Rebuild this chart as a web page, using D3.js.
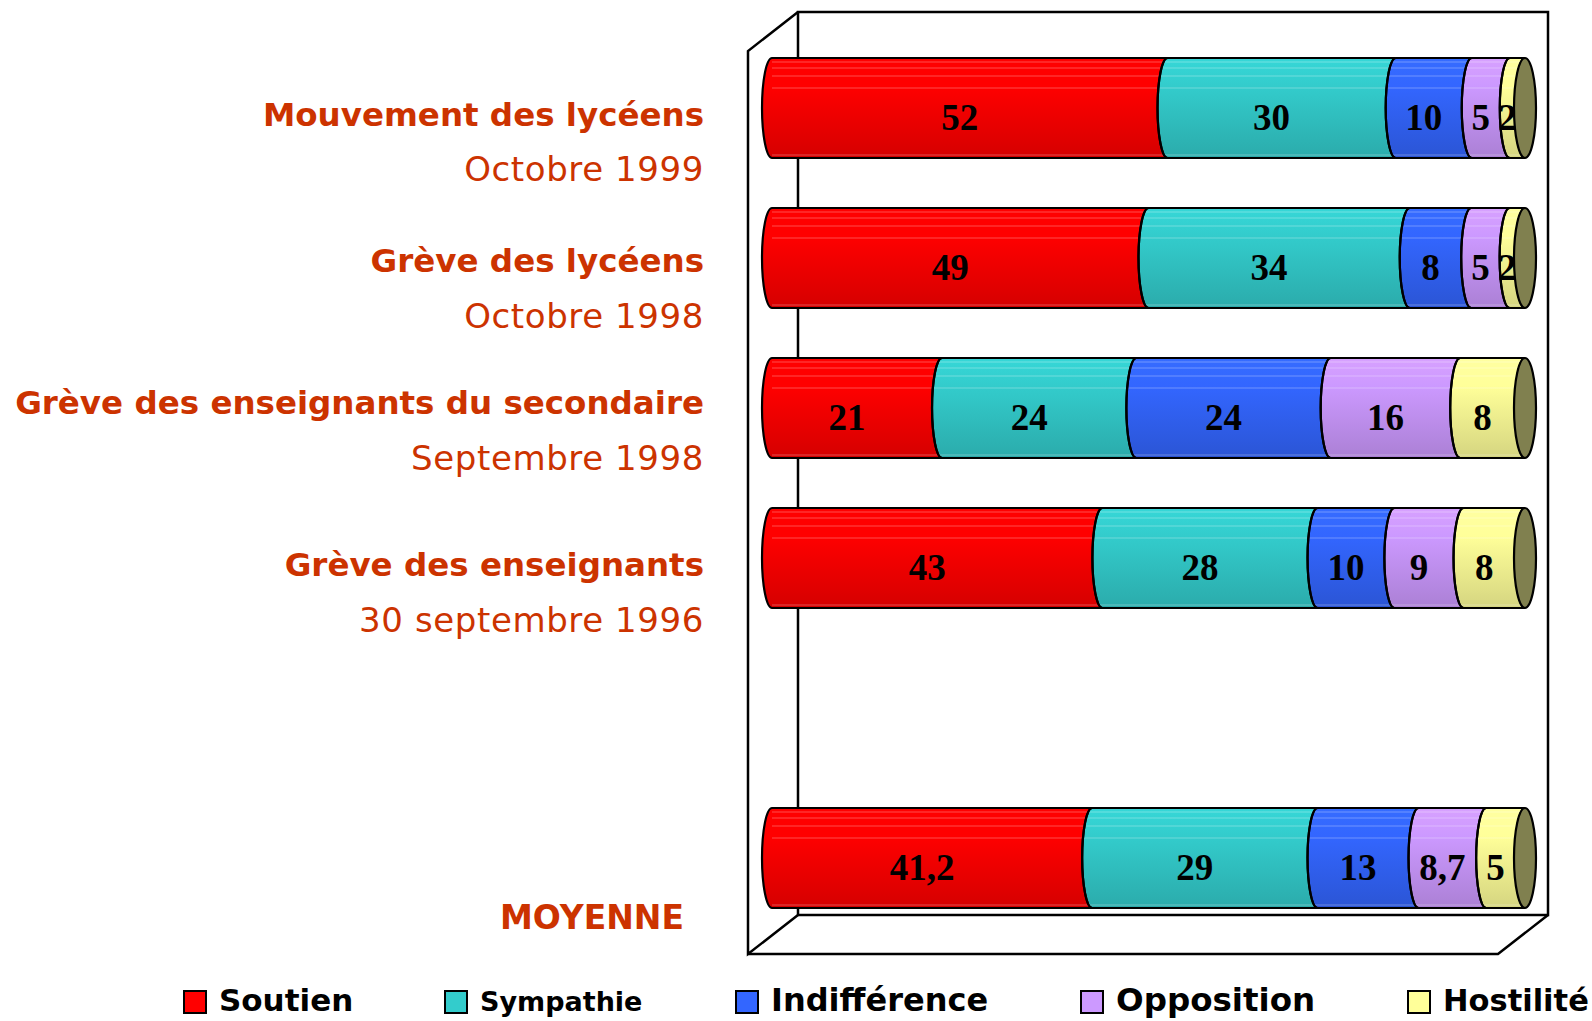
<!DOCTYPE html>
<html><head><meta charset="utf-8">
<script src="https://cdn.jsdelivr.net/npm/d3@7"></script>
<style>body{margin:0;background:#fff}</style>
</head><body><svg id="c" width="1592" height="1021"></svg>
<script>
// ---------- DATA ----------
const categories = ["Mouvement des lycéens", "Grève des lycéens", "Grève des enseignants du secondaire", "Grève des enseignants", "MOYENNE"];
const subtitles  = ["Octobre 1999", "Octobre 1998", "Septembre 1998", "30 septembre 1996", ""];
const seriesNames = ["Soutien", "Sympathie", "Indifférence", "Opposition", "Hostilité"];
const soutien     = [52, 49, 21, 43, 41.2];
const sympathie   = [30, 34, 24, 28, 29];
const indifference= [10, 8, 24, 10, 13];
const opposition  = [5, 5, 16, 9, 8.7];
const hostilite   = [2, 2, 8, 8, 5];
const seriesColors = ["#ff0000", "#33cccc", "#3366ff", "#cc99ff", "#ffff99"];

// ---------- LAYOUT (style constants) ----------
const W = 1592, H = 1021;
const titleColor = "#cc3300";
const titleDy = [18, 14, 6, 18, 71];
const subDy   = [73, 70, 62, 74];
const legendX = [184, 445, 736, 1081, 1408];
const legendFont = [31, 27, 32, 32.5, 30.5];

const svg = d3.select("#c");
svg.append("rect").attr("width", W).attr("height", H).attr("fill", "#fff");
const defs = svg.append("defs");

const rows = categories.map((c, i) => ({
  cat: c, sub: subtitles[i],
  "Soutien": soutien[i], "Sympathie": sympathie[i], "Indifférence": indifference[i],
  "Opposition": opposition[i], "Hostilité": hostilite[i]
}));
const stacked = d3.stack().keys(seriesNames).offset(d3.stackOffsetExpand)(rows);

// y band with an empty slot before MOYENNE
const yKeys = [categories[0], categories[1], categories[2], categories[3], "__gap__", categories[4]];
const y = d3.scaleBand().domain(yKeys).range([33, 933]).paddingInner(1/3).paddingOuter(1/6);
const x = d3.scaleLinear().domain([0, 1]).range([772, 1525]);
const color = d3.scaleOrdinal().domain(seriesNames).range(seriesColors);
const fr = d3.formatLocale({decimal: ",", thousands: " ", grouping: [3], currency: ["", "€"]}).format("~g");

// ---------- 3D frame ----------
const back = {x0: 798, y0: 12, x1: 1548, y1: 915}, dx = -50, dy = 39;
const frame = svg.append("g").attr("fill", "none").attr("stroke", "#000").attr("stroke-width", 2.5).attr("stroke-linejoin", "miter");
frame.append("rect").attr("x", back.x0).attr("y", back.y0).attr("width", back.x1 - back.x0).attr("height", back.y1 - back.y0);
frame.append("path").attr("d", `M${back.x0},${back.y0} L${back.x0+dx},${back.y0+dy} L${back.x0+dx},${back.y1+dy} L${back.x0},${back.y1}`);
frame.append("path").attr("d", `M${back.x0+dx},${back.y1+dy} L${back.x1+dx},${back.y1+dy} L${back.x1},${back.y1}`);

// ---------- gradients ----------
seriesNames.forEach((s, j) => {
  const base = d3.color(color(s));
  const g = defs.append("linearGradient").attr("id", "g" + j).attr("x1", 0).attr("y1", 0).attr("x2", 0).attr("y2", 1);
  g.append("stop").attr("offset", "0%").attr("stop-color", base.brighter(0.15));
  g.append("stop").attr("offset", "28%").attr("stop-color", base);
  g.append("stop").attr("offset", "100%").attr("stop-color", base.darker(0.5));
});

const rx = 10;
function segPath(x0, x1, top, bot) {
  const ry = (bot - top) / 2;
  return `M${x0},${top} L${x1},${top} A${rx},${ry} 0 0 0 ${x1},${bot} L${x0},${bot} A${rx},${ry} 0 0 1 ${x0},${top} Z`;
}

// ---------- bars ----------
const barsG = svg.append("g");
categories.forEach((cat, i) => {
  const top = y(cat), bot = top + y.bandwidth(), ry = (bot - top) / 2;
  const g = barsG.append("g");
  stacked.forEach((layer, j) => {
    const d = layer[i];
    g.append("path").attr("d", segPath(x(d[0]), x(d[1]), top, bot)).attr("fill", `url(#g${j})`);
  });
  [0.04, 0.1, 0.18, 0.3, 0.97].forEach(f => {
    g.append("line").attr("x1", x(0)).attr("x2", x(1)).attr("y1", top + f * (bot - top)).attr("y2", top + f * (bot - top))
      .attr("stroke", "#fff").attr("stroke-opacity", 0.3).attr("stroke-width", 1.2);
  });
  stacked.forEach((layer, j) => {
    const d = layer[i];
    g.append("path").attr("d", segPath(x(d[0]), x(d[1]), top, bot)).attr("fill", "none").attr("stroke", "#000").attr("stroke-width", 2.2);
  });
  g.append("ellipse").attr("cx", x(1)).attr("cy", top + ry).attr("rx", rx + 1).attr("ry", ry)
    .attr("fill", "#80804f").attr("stroke", "#000").attr("stroke-width", 2.2);
  stacked.forEach((layer, j) => {
    const d = layer[i];
    g.append("text").attr("x", (x(d[0]) + x(d[1])) / 2 - rx).attr("y", top + ry + 22)
      .attr("text-anchor", "middle").attr("font-family", "'Liberation Serif', 'Times New Roman', serif")
      .attr("font-weight", "bold").attr("font-size", 37).attr("fill", "#000")
      .text(fr(layer[i].data[seriesNames[j]]));
  });
});

// ---------- category labels ----------
const labG = svg.append("g").attr("fill", titleColor);
categories.forEach((cat, i) => {
  const cy = y(cat) + y.bandwidth() / 2;
  if (i < 4) {
    labG.append("text").attr("x", 704).attr("y", cy + titleDy[i]).attr("text-anchor", "end")
      .attr("font-family", "'DejaVu Sans', sans-serif").attr("font-weight", "bold").attr("font-size", 32.5).text(cat);
    labG.append("text").attr("x", 704).attr("y", cy + subDy[i]).attr("text-anchor", "end")
      .attr("font-family", "'DejaVu Sans', sans-serif").attr("font-size", 34).attr("letter-spacing", 0.6).text(subtitles[i]);
  } else {
    labG.append("text").attr("x", 592).attr("y", cy + titleDy[i]).attr("text-anchor", "middle")
      .attr("font-family", "'DejaVu Sans', sans-serif").attr("font-weight", "bold").attr("font-size", 33).text(cat);
  }
});

// ---------- legend ----------
const leg = svg.append("g");
seriesNames.forEach((s, j) => {
  leg.append("rect").attr("x", legendX[j]).attr("y", 991).attr("width", 22).attr("height", 22)
    .attr("fill", color(s)).attr("stroke", "#000").attr("stroke-width", 2);
  leg.append("text").attr("x", legendX[j] + 35).attr("y", 1011)
    .attr("font-family", "'DejaVu Sans', sans-serif").attr("font-weight", "bold").attr("font-size", legendFont[j])
    .attr("fill", "#000").text(s);
});
</script></body></html>
